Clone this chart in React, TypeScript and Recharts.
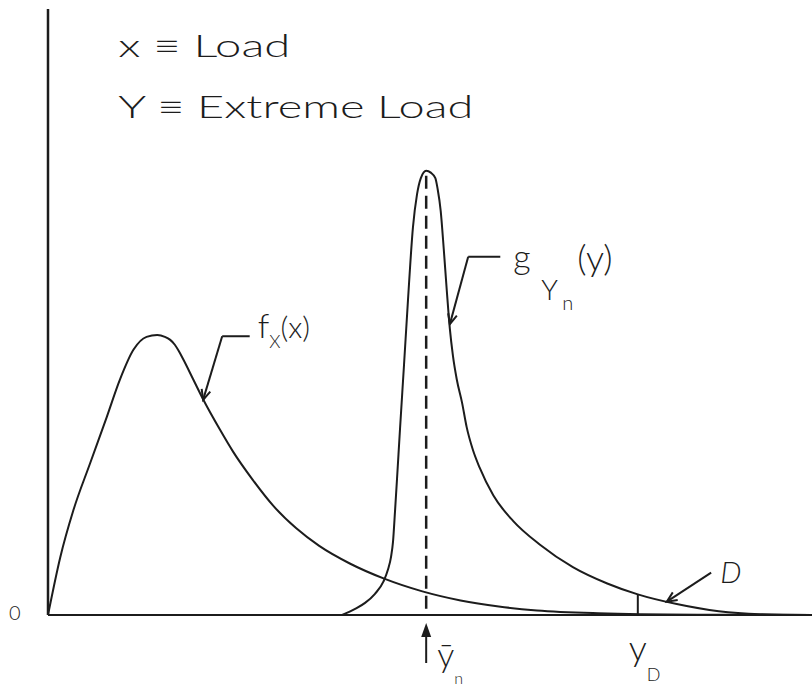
import React from 'react';
import { ComposedChart, Line, XAxis, YAxis, ReferenceLine, ReferenceDot } from 'recharts';

// Parent load density f_X(x)
const loadX = [0, 1.6, 3.3, 5.5, 7.7, 9.4, 11.2, 12.9, 14.3, 15.3, 16.0, 16.6, 17.1, 17.7, 19.0, 20.3, 22.5, 24.2, 26.8, 29.5, 32.5, 35.5, 39.5, 44.0, 49.0, 54.0, 59.0, 64.0, 72.0, 85.0, 100];
const loadDensity = [0, 9.5, 17.2, 25.0, 32.7, 38.8, 43.8, 45.9, 46.2, 45.9, 45.4, 44.6, 43.6, 42.2, 38.9, 35.6, 30.6, 27.0, 22.3, 18.0, 14.3, 11.4, 8.5, 6.0, 3.9, 2.4, 1.4, 0.75, 0.3, 0.06, 0];

// Extreme load density g_Yn(y)
const extremeX = [38.5, 40.2, 41.5, 42.8, 43.9, 44.5, 44.9, 45.16, 45.42, 45.68, 46.07, 46.6, 47.12, 47.77, 48.3, 48.8, 49.5, 50.1, 50.7, 51.0, 51.4, 51.8, 52.2, 52.6, 53.0, 53.5, 54.2, 54.8, 55.6, 56.5, 58.3, 60.9, 64.4, 68.7, 73.2, 77.2, 82.3, 87.8, 93.2, 100];
const extremeDensity = [0, 1.0, 2.0, 3.5, 5.5, 7.5, 9.6, 12.1, 17.1, 22.4, 30.6, 41.3, 52.0, 64.0, 69.4, 72.1, 73.3, 73.0, 72.1, 70.3, 66.7, 60.4, 53.5, 47.2, 42.8, 38.9, 35.0, 31.0, 27.3, 24.3, 19.7, 15.5, 11.6, 7.9, 5.2, 3.4, 1.8, 0.6, 0.13, 0];

// Characteristic values on the load axis
const modeIndex = extremeDensity.indexOf(Math.max(...extremeDensity));
const extremeMode = extremeX[modeIndex]; // y-bar_n
const designIndex = extremeX.indexOf(77.2);
const designLoad = extremeX[designIndex]; // y_D
const designHeight = extremeDensity[designIndex];

// Leader lines (data units)
const fLeader = [[26.4, 46.0], [22.8, 46.0], [20.3, 35.5]];
const gLeader = [[59.2, 59.1], [55.0, 59.1], [52.6, 48.0]];
const dLeader = [[86.8, 7.0], [81.0, 2.2]];

const loadSeries = loadX.map((x, i) => ({ x, y: loadDensity[i] }));
const extremeSeries = extremeX.map((x, i) => ({ x, y: extremeDensity[i] }));

const INK = '#1c1c1c';
const FONT = "Lato, 'DejaVu Sans', sans-serif";

const plainLine = (p: any) => (
  <line x1={p.x1} y1={p.y1} x2={p.x2} y2={p.y2} stroke={INK} strokeWidth={2} />
);

const arrowLine = (p: any) => {
  const { x1, y1, x2, y2 } = p;
  const a = Math.atan2(y2 - y1, x2 - x1);
  const L = 11;
  const s = 0.42;
  const ax = x2 - L * Math.cos(a - s);
  const ay = y2 - L * Math.sin(a - s);
  const bx = x2 - L * Math.cos(a + s);
  const by = y2 - L * Math.sin(a + s);
  return (
    <g>
      <line x1={x1} y1={y1} x2={x2} y2={y2} stroke={INK} strokeWidth={2} />
      <path d={`M${ax},${ay} L${x2},${y2} L${bx},${by}`} fill="none" stroke={INK} strokeWidth={2} />
    </g>
  );
};

const txt = { fontFamily: FONT, fontWeight: 300, fill: INK } as const;

export default function App() {
  return (
    <div style={{ position: 'fixed', left: 0, top: 0, background: '#fff' }}>
      <ComposedChart
        width={812}
        height={689}
        margin={{ top: 9, right: 0, bottom: 74, left: 48 }}
      >
        <XAxis type="number" dataKey="x" domain={[0, 100]} hide />
        <YAxis type="number" domain={[0, 100]} hide />

        {/* axes */}
        <ReferenceLine x={0} stroke={INK} strokeWidth={2.5} />
        <ReferenceLine y={0} stroke={INK} strokeWidth={2} />

        <Line
          data={loadSeries}
          dataKey="y"
          type="monotone"
          stroke={INK}
          strokeWidth={2}
          dot={false}
          activeDot={false}
          isAnimationActive={false}
        />
        <Line
          data={extremeSeries}
          dataKey="y"
          type="monotone"
          stroke={INK}
          strokeWidth={2}
          dot={false}
          activeDot={false}
          isAnimationActive={false}
        />

        {/* mode of the extreme load */}
        <ReferenceLine
          segment={[{ x: extremeMode, y: extremeDensity[modeIndex] - 0.8 }, { x: extremeMode, y: 0 }]}
          stroke={INK}
          strokeWidth={2.5}
          strokeDasharray="13 7"
        />
        {/* design load */}
        <ReferenceLine
          segment={[{ x: designLoad, y: 0 }, { x: designLoad, y: designHeight }]}
          shape={plainLine}
        />

        {/* leaders */}
        <ReferenceLine segment={[{ x: fLeader[0][0], y: fLeader[0][1] }, { x: fLeader[1][0], y: fLeader[1][1] }]} shape={plainLine} />
        <ReferenceLine segment={[{ x: fLeader[1][0], y: fLeader[1][1] }, { x: fLeader[2][0], y: fLeader[2][1] }]} shape={arrowLine} />
        <ReferenceLine segment={[{ x: gLeader[0][0], y: gLeader[0][1] }, { x: gLeader[1][0], y: gLeader[1][1] }]} shape={plainLine} />
        <ReferenceLine segment={[{ x: gLeader[1][0], y: gLeader[1][1] }, { x: gLeader[2][0], y: gLeader[2][1] }]} shape={arrowLine} />
        <ReferenceLine segment={[{ x: dLeader[0][0], y: dLeader[0][1] }, { x: dLeader[1][0], y: dLeader[1][1] }]} shape={arrowLine} />

        {/* origin */}
        <ReferenceDot
          x={0}
          y={0}
          shape={(p: any) => (
            <text x={p.cx - 39} y={p.cy + 5} fontSize={20} {...txt}>0</text>
          )}
        />

        {/* legend text */}
        <ReferenceDot
          x={9.2}
          y={92.1}
          shape={(p: any) => (
            <g>
              <text x={p.cx} y={p.cy} fontSize={32} textLength={172} lengthAdjust="spacingAndGlyphs" {...txt}>x ≡ Load</text>
              <text x={p.cx} y={p.cy + 61} fontSize={32} textLength={355} lengthAdjust="spacingAndGlyphs" {...txt}>Y ≡ Extreme Load</text>
            </g>
          )}
        />

        {/* f_X(x) label */}
        <ReferenceDot
          x={fLeader[0][0]}
          y={fLeader[0][1]}
          shape={(p: any) => (
            <text x={p.cx + 8} y={p.cy + 2} fontSize={34} {...txt}>
              f
              <tspan fontSize={18} dy={10}>X</tspan>
              <tspan fontSize={30} dy={-10}>(x)</tspan>
            </text>
          )}
        />

        {/* g_Yn(y) label */}
        <ReferenceDot
          x={gLeader[0][0]}
          y={gLeader[0][1]}
          shape={(p: any) => (
            <text {...txt}>
              <tspan x={p.cx + 13} y={p.cy + 12} fontSize={34}>g</tspan>
              <tspan x={p.cx + 41} y={p.cy + 43} fontSize={28}>Y</tspan>
              <tspan x={p.cx + 62} y={p.cy + 53} fontSize={20}>n</tspan>
              <tspan x={p.cx + 77} y={p.cy + 14} fontSize={36}>(y)</tspan>
            </text>
          )}
        />

        {/* D label */}
        <ReferenceDot
          x={dLeader[0][0]}
          y={dLeader[0][1]}
          shape={(p: any) => (
            <text x={p.cx + 9} y={p.cy + 10} fontSize={30} fontStyle="italic" {...txt}>D</text>
          )}
        />

        {/* y-bar_n marker below the axis */}
        <ReferenceDot
          x={extremeMode}
          y={0}
          shape={(p: any) => (
            <g>
              <line x1={p.cx} y1={p.cy + 48} x2={p.cx} y2={p.cy + 12} stroke={INK} strokeWidth={2} />
              <path d={`M${p.cx - 5},${p.cy + 22} L${p.cx},${p.cy + 8} L${p.cx + 5},${p.cy + 22} Z`} fill={INK} />
              <text {...txt}>
                <tspan x={p.cx + 11} y={p.cy + 52} fontSize={34}>ȳ</tspan>
                <tspan x={p.cx + 28} y={p.cy + 69} fontSize={16}>n</tspan>
              </text>
            </g>
          )}
        />

        {/* y_D label */}
        <ReferenceDot
          x={designLoad}
          y={0}
          shape={(p: any) => (
            <text {...txt}>
              <tspan x={p.cx - 9} y={p.cy + 46} fontSize={36}>y</tspan>
              <tspan x={p.cx + 9} y={p.cy + 66} fontSize={18}>D</tspan>
            </text>
          )}
        />
      </ComposedChart>
    </div>
  );
}
